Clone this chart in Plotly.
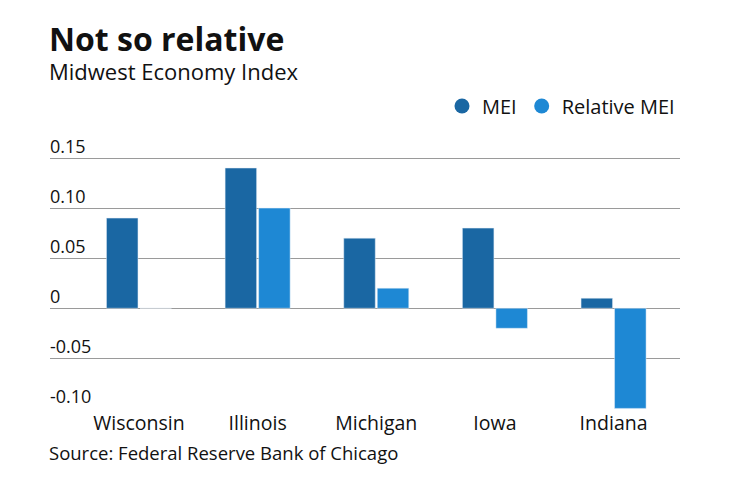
import plotly.graph_objects as go

states = ["Wisconsin", "Illinois", "Michigan", "Iowa", "Indiana"]
mei = [0.09, 0.14, 0.07, 0.08, 0.01]
relative_mei = [0.0, 0.10, 0.02, -0.02, -0.10]
tick_vals = [-0.10, -0.05, 0, 0.05, 0.10, 0.15]
tick_text = ["-0.10", "-0.05", "0", "0.05", "0.10", "0.15"]

c_mei = "#1a67a3"
c_rel = "#1e88d4"
FONT = "Open Sans"
TXT = "#111111"

T, B = 156, 73
H = 482 - T - B


def py(ypix):
    return (482 - B - ypix) / H


fig = go.Figure()
fig.add_trace(go.Bar(x=states, y=mei, name="MEI", marker_color=c_mei, showlegend=False))
fig.add_trace(go.Bar(x=states, y=relative_mei, name="Relative MEI", marker_color=c_rel, showlegend=False))
# legend entries with circle markers
fig.add_trace(go.Scatter(x=[None], y=[None], mode="markers", name="MEI",
                         marker=dict(color=c_mei, size=15, symbol="circle")))
fig.add_trace(go.Scatter(x=[None], y=[None], mode="markers", name="Relative MEI",
                         marker=dict(color=c_rel, size=15, symbol="circle")))

fig.update_layout(
    width=740, height=482,
    margin=dict(l=50, r=60, t=T, b=B),
    paper_bgcolor="white", plot_bgcolor="white",
    font=dict(family=FONT, color=TXT),
    barmode="group", bargap=0.435, bargroupgap=0.06,
    showlegend=True,
    legend=dict(orientation="h", x=1.0, xanchor="right", y=py(106),
                yanchor="middle", font=dict(size=20, family=FONT, color=TXT),
                itemwidth=30, traceorder="normal"),
    xaxis=dict(range=[-0.75, 4.56], showgrid=False, zeroline=False, showline=False,
               ticks="", tickfont=dict(size=19.5, family=FONT, color=TXT), fixedrange=True),
    yaxis=dict(range=[-0.1006, 0.152], tickvals=tick_vals, showticklabels=False,
               showgrid=True, gridcolor="#9a9a9a",
               gridwidth=1, zeroline=True, zerolinecolor="#9a9a9a", zerolinewidth=1,
               showline=False, ticks=""),
)
for v, t in zip(tick_vals, tick_text):
    fig.add_annotation(text=t, xref="paper", yref="y", x=0, y=v, xanchor="left",
                       yanchor="bottom", showarrow=False, xshift=-2, yshift=-2,
                       font=dict(size=18, family=FONT, color=TXT))
fig.add_annotation(
    text="<span style='font-size:32px'><b>Not so relative</b></span><br>Midwest Economy Index",
    xref="paper", yref="paper", x=0, y=py(15), xanchor="left", yanchor="top", align="left",
    showarrow=False, xshift=-3, font=dict(size=22, family=FONT, color=TXT))
fig.add_annotation(text="Source: Federal Reserve Bank of Chicago", xref="paper", yref="paper",
                   x=0, y=py(452), xanchor="left", yanchor="middle",
                   showarrow=False, xshift=-3, font=dict(size=18.5, family=FONT, color=TXT))

fig.write_html("out.html")
